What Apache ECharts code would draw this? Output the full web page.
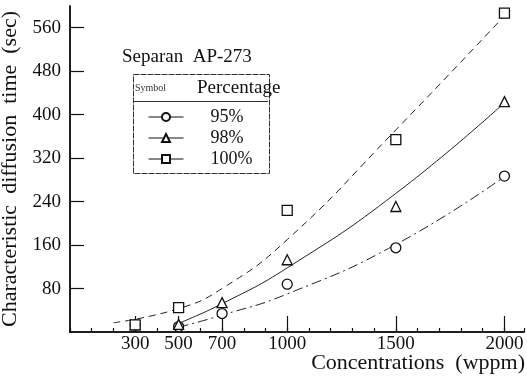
<!DOCTYPE html>
<html>
<head>
<meta charset="utf-8">
<script src="https://cdn.jsdelivr.net/npm/echarts@6/dist/echarts.min.js"></script>
<style>
  html, body { margin: 0; padding: 0; background: #fff; }
  #chart { width: 527px; height: 379px; }
</style>
</head>
<body>
<div id="chart"></div>
<script>
// measured points (concentration wppm, diffusion time sec)
const conc = [300, 500, 700, 1000, 1500, 2000];
const pts95 = [13, 10, 34, 88, 155, 287];
const pts98 = [13, 14, 54, 133, 231, 424];
const pts100 = [13, 45, null, 224, 354, 587];

// fitted curves
const fit100X = [200, 500, 700, 1000, 1500, 2000];
const fit100Y = [17, 43, 80, 170, 372, 582];
const fit98X = [500, 700, 1000, 1500, 2000];
const fit98Y = [16, 52, 118, 255, 422];
const fit95X = [500, 700, 1000, 1500, 2000];
const fit95Y = [9, 31, 70, 161, 286];

const xLabels = [300, 500, 700, 1000, 1500, 2000];
const yTicks = [80, 160, 240, 320, 400, 480, 560];
const legendNames = ['95%', '98%', '100%'];

const FONT = '"Liberation Serif", "DejaVu Serif", serif';

const pair = (xs, ys) => xs.map((x, i) => [x, ys[i]]);
const ptSeries = (name, ys, symbol) => ({
  name: name,
  type: 'line',
  data: conc.map((c, i) => [c, ys[i]]).filter(d => d[1] != null),
  symbol: symbol,
  symbolSize: 10,
  showSymbol: true,
  lineStyle: { width: 0, opacity: 0 },
  itemStyle: { color: '#fff', borderColor: '#111', borderWidth: 1.3 },
  z: 5
});
const fitSeries = (xs, ys, type) => ({
  type: 'line',
  data: pair(xs, ys),
  smooth: 0.5,
  showSymbol: false,
  lineStyle: { color: '#222', width: 1, type: type },
  z: 3
});

const chart = echarts.init(document.getElementById('chart'));
const gridBox = { left: 70, right: 3, top: 6, bottom: 47, containLabel: false, outerBoundsMode: 'none' };
const baseX = {
  type: 'value', min: 0, max: 2090,
  splitLine: { show: false }
};
const baseY = {
  type: 'value', min: 0, max: 600, interval: 80,
  splitLine: { show: false }
};
const axLine = { show: true, lineStyle: { color: '#111', width: 1.5 } };
const noTick = { show: false };
// tick-only axes are shifted into the plot so their outward ticks end on the frame
const tickAxis = (base, grid, pos, len, extra) => Object.assign({}, base, {
  gridIndex: grid,
  position: pos,
  offset: -len,
  axisLine: { show: false },
  axisTick: { show: true, length: len, lineStyle: { color: '#111', width: 1.2 } },
  axisLabel: { show: false }
}, extra);

chart.setOption({
  animation: false,
  backgroundColor: '#fff',
  textStyle: { fontFamily: FONT },
  grid: [gridBox, Object.assign({}, gridBox), Object.assign({}, gridBox)],
  xAxis: [
    Object.assign({}, baseX, {
      gridIndex: 0,
      position: 'bottom',
      axisLine: axLine,
      axisTick: noTick,
      axisLabel: { customValues: xLabels, formatter: v => String(v), color: '#111', fontSize: 19, fontFamily: FONT, margin: 3 }
    }),
    Object.assign({}, baseX, {
      gridIndex: 0,
      position: 'top',
      axisLine: axLine,
      axisTick: noTick,
      axisLabel: { show: false }
    }),
    tickAxis(baseX, 1, 'bottom', 8, { axisTick: { show: true, length: 8, customValues: xLabels, lineStyle: { color: '#111', width: 1.2 } } }),
    tickAxis(baseX, 1, 'top', 8, { axisTick: { show: true, length: 8, customValues: xLabels, lineStyle: { color: '#111', width: 1.2 } } }),
    tickAxis(baseX, 2, 'bottom', 4, { interval: 100 })
  ],
  yAxis: [
    Object.assign({}, baseY, {
      gridIndex: 0,
      position: 'left',
      name: 'Characteristic  diffusion  time  (sec)',
      nameLocation: 'middle',
      nameGap: 48,
      nameTextStyle: { color: '#111', fontSize: 22, fontFamily: FONT },
      axisLine: axLine,
      axisTick: noTick,
      axisLabel: { color: '#111', fontSize: 19, fontFamily: FONT, margin: 9, showMinLabel: false,
        formatter: v => (yTicks.includes(v) ? String(v) : '') }
    }),
    Object.assign({}, baseY, {
      gridIndex: 0,
      position: 'right',
      axisLine: axLine,
      axisTick: noTick,
      axisLabel: { show: false }
    }),
    tickAxis(baseY, 1, 'left', 7, { axisTick: { show: true, length: 7, customValues: yTicks, lineStyle: { color: '#111', width: 1.2 } } }),
    tickAxis(baseY, 1, 'right', 7, { axisTick: { show: true, length: 7, customValues: yTicks, lineStyle: { color: '#111', width: 1.2 } } }),
    Object.assign({}, baseY, { gridIndex: 2, show: false })
  ],
  legend: {
    data: legendNames,
    orient: 'vertical',
    left: 143,
    top: 103,
    itemWidth: 35,
    itemHeight: 10,
    itemGap: 3,
    lineStyle: { width: 1, opacity: 1, type: 'solid', color: '#111' },
    textStyle: { color: '#111', fontSize: 18, fontFamily: FONT, padding: [0, 0, 0, 22] },
    selectedMode: false
  },
  graphic: [
    { type: 'text', left: 122, top: 48,
      style: { text: 'Separan  AP-273', fill: '#111', font: '19px ' + FONT } },
    { type: 'rect', shape: { x: 133.5, y: 74.5, width: 136, height: 99 },
      style: { fill: 'none', stroke: '#333', lineWidth: 1, lineDash: [6, 1] } },
    { type: 'line', shape: { x1: 133, y1: 101.5, x2: 268, y2: 101.5 },
      style: { stroke: '#333', lineWidth: 1 } },
    { type: 'text', left: 135, top: 83,
      style: { text: 'Symbol', fill: '#333', font: '10px ' + FONT } },
    { type: 'text', left: 197, top: 79,
      style: { text: 'Percentage', fill: '#111', font: '19px ' + FONT } },
    { type: 'text', right: 2, top: 352,
      style: { text: 'Concentrations  (wppm)', fill: '#111', font: '22px ' + FONT } }
  ],
  series: [
    fitSeries(fit100X, fit100Y, [7, 5]),
    fitSeries(fit98X, fit98Y, 'solid'),
    fitSeries(fit95X, fit95Y, [10, 4, 2, 4]),
    ptSeries('95%', pts95, 'circle'),
    ptSeries('98%', pts98, 'triangle'),
    ptSeries('100%', pts100, 'rect')
  ]
});
</script>
</body>
</html>
